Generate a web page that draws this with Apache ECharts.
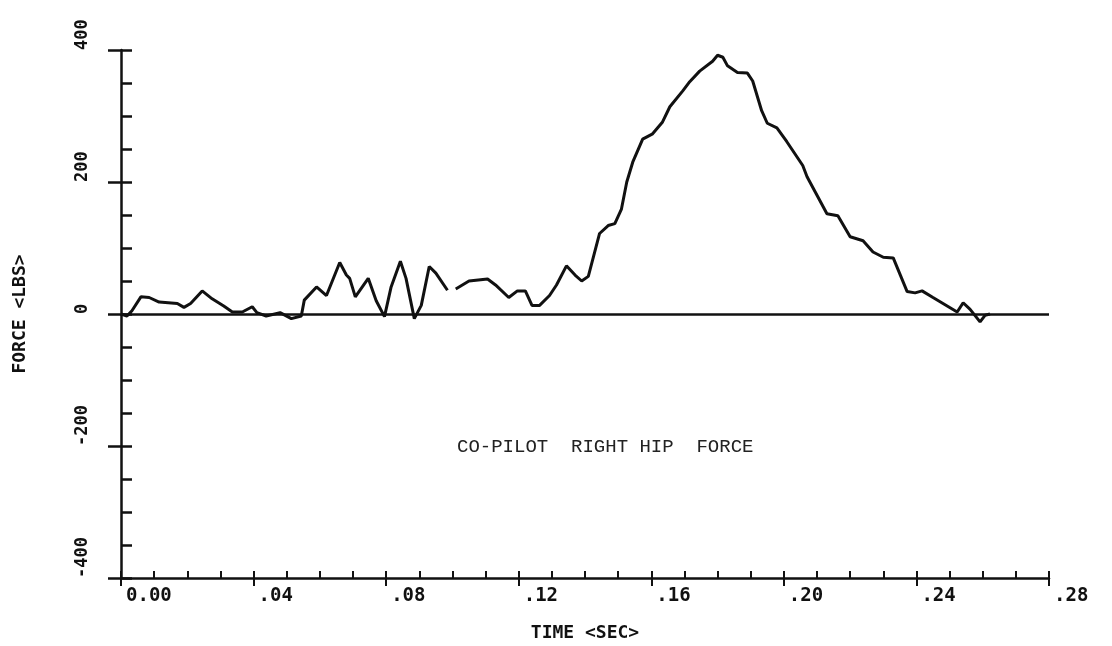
<!DOCTYPE html>
<html>
<head>
<meta charset="utf-8">
<title>CO-PILOT RIGHT HIP FORCE</title>
<script src="https://cdn.jsdelivr.net/npm/echarts@6/dist/echarts.min.js"></script>
<style>
	html, body { margin: 0; padding: 0; background: #fff; }
	#main-line { width: 1112px; height: 646px; }
</style>
</head>
<body>
<div id="main-line"></div>
<script>
// 时间 (sec)
var times = [
	0.000, 0.0018, 0.0033, 0.006, 0.0085, 0.0115, 0.017, 0.019, 0.021, 0.0245,
	0.0275, 0.031, 0.0336, 0.0366, 0.0396, 0.041, 0.0438, 0.048, 0.0514, 0.0544,
	0.0553, 0.059, 0.062, 0.066, 0.068, 0.069, 0.0707, 0.0746, 0.077, 0.0795,
	0.0815, 0.0843, 0.086, 0.0885, 0.0906, 0.093, 0.095, 0.0985, 0.0995, 0.101,
	0.105, 0.1106, 0.113, 0.117, 0.1196, 0.122, 0.124, 0.1263, 0.1293, 0.1314,
	0.1344, 0.137, 0.139, 0.141, 0.1444, 0.147, 0.149, 0.151, 0.1526, 0.1544,
	0.1574, 0.1604, 0.1634, 0.1656, 0.1695, 0.1716, 0.1746, 0.1785, 0.180, 0.1816,
	0.183, 0.186, 0.189, 0.1906, 0.1933, 0.195, 0.1979, 0.2009, 0.2057, 0.207,
	0.21, 0.213, 0.2163, 0.22, 0.2239, 0.2269, 0.23, 0.233, 0.2372, 0.2396,
	0.2417, 0.245, 0.2523, 0.2541, 0.2562, 0.2592, 0.2607, 0.2622
];
// 力 (lbs), null = pen lifted
var forces = [
	0, -3, 5, 26, 25, 18, 16, 10, 16, 35,
	23, 12, 3, 3, 11, 2, -3, 2, -7, -3,
	21, 41, 28, 78, 59, 54, 26, 54, 20, -4,
	41, 80, 54, -7, 13, 72, 62, 36, null, 38,
	50, 53, 44, 25, 35, 35, 13, 13, 28, 44,
	73, 59, 50, 57, 122, 134, 137, 159, 200, 230,
	265, 273, 291, 314, 338, 352, 368, 383, 392, 389,
	376, 366, 365, 353, 308, 289, 282, 261, 225, 208,
	180, 152, 149, 117, 111, 94, 86, 85, 34, 32,
	35, 25, 3, 17, 7, -12, -2, 0
];
// 刻度标签
var xTickLabels = ['0.00', '.04', '.08', '.12', '.16', '.20', '.24', '.28'];
var yTickLabels = ['-400', '-200', '0', '200', '400'];

var ink = '#111';
var plotFont = 'DejaVu Sans Mono';

var seriesData = [];
for (var i = 0; i < times.length; i++) {
	seriesData.push([times[i], forces[i]]);
}

var myChart = echarts.init(document.getElementById('main-line'));
var option = {
	backgroundColor: '#fff',
	animation: false,
	grid: {
		left: 121,
		right: 63,
		top: 50,
		bottom: 68,
		containLabel: false,
		outerBoundsMode: 'none'
	},
	xAxis: [
		{
			type: 'value',
			min: 0,
			max: 0.28,
			interval: 0.04,
			name: 'TIME <SEC>',
			nameLocation: 'middle',
			nameGap: 46,
			nameTextStyle: { color: ink, fontFamily: plotFont, fontWeight: 'bold', fontSize: 18 },
			splitLine: { show: false },
			axisLine: { onZero: false, lineStyle: { color: ink, width: 2.5 } },
			axisTick: { inside: true, length: 7, lineStyle: { color: ink, width: 2 } },
			minorTick: { show: true, splitNumber: 4, length: 7, lineStyle: { color: ink, width: 2 } },
			axisLabel: {
				color: ink,
				fontFamily: plotFont,
				fontWeight: 'bold',
				fontSize: 19,
				align: 'left',
				margin: 9,
				padding: [0, 0, 0, 5],
				formatter: function (value, index) {
					return xTickLabels[index];
				}
			}
		},
		{
			// 主刻度向下伸出
			type: 'value',
			position: 'bottom',
			min: 0,
			max: 0.28,
			interval: 0.04,
			splitLine: { show: false },
			axisLine: { show: false, onZero: false },
			axisTick: { inside: false, length: 8, lineStyle: { color: ink, width: 2 } },
			axisLabel: { show: false }
		}
	],
	yAxis: [
		{
			type: 'value',
			min: -400,
			max: 400,
			interval: 200,
			name: 'FORCE <LBS>',
			nameLocation: 'middle',
			nameGap: 92,
			nameTextStyle: { color: ink, fontFamily: plotFont, fontWeight: 'bold', fontSize: 18 },
			splitLine: { show: false },
			axisLine: { onZero: false, lineStyle: { color: ink, width: 2.5 } },
			axisTick: { inside: true, length: 11, lineStyle: { color: ink, width: 2.5 } },
			minorTick: { show: true, splitNumber: 4, length: 11, lineStyle: { color: ink, width: 2.5 } },
			axisLabel: {
				color: ink,
				fontFamily: plotFont,
				fontWeight: 'bold',
				fontSize: 17,
				rotate: 90,
				align: 'left',
				verticalAlign: 'middle',
				margin: 38,
				formatter: function (value, index) {
					return yTickLabels[index];
				}
			}
		},
		{
			// 主刻度向左伸出
			type: 'value',
			position: 'left',
			min: -400,
			max: 400,
			interval: 200,
			splitLine: { show: false },
			axisLine: { show: false, onZero: false },
			axisTick: { inside: false, length: 13, lineStyle: { color: ink, width: 2.5 } },
			axisLabel: { show: false }
		}
	],
	series: [
		{
			name: 'CO-PILOT RIGHT HIP FORCE',
			type: 'line',
			data: seriesData,
			showSymbol: false,
			symbol: 'none',
			connectNulls: false,
			lineStyle: { color: ink, width: 3 },
			markLine: {
				silent: true,
				symbol: 'none',
				label: { show: false },
				lineStyle: { color: ink, width: 2.5, type: 'solid' },
				data: [{ yAxis: 0 }]
			}
		}
	],
	graphic: [
		{
			type: 'text',
			left: 457,
			top: 437,
			style: {
				text: 'CO-PILOT  RIGHT HIP  FORCE',
				fill: '#222',
				font: '19px "Liberation Mono"'
			}
		}
	]
};
myChart.setOption(option);
</script>
</body>
</html>
